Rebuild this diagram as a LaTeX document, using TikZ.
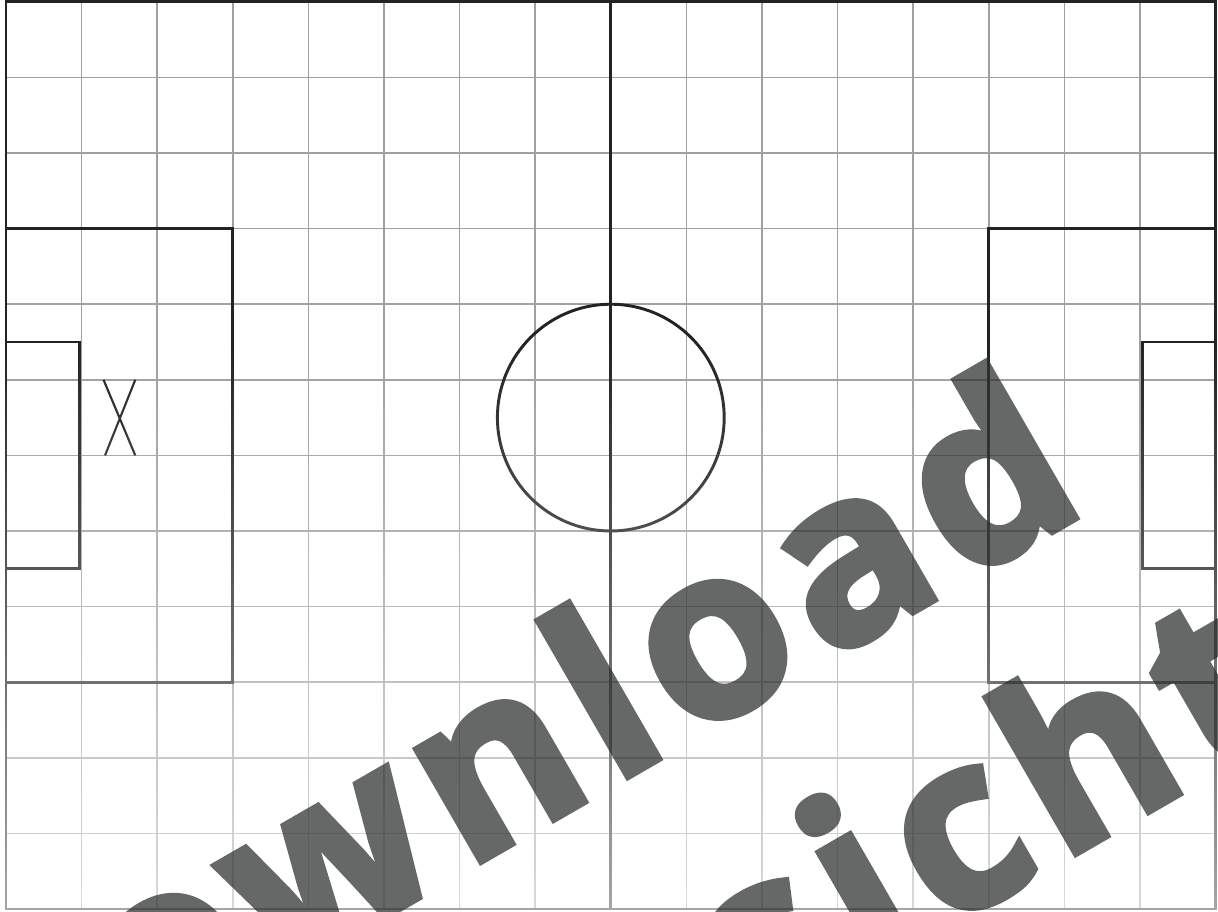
\documentclass[tikz,border=0pt]{standalone}
\usepackage{fontspec}
\usetikzlibrary{fadings}
\newfontfamily\wmfont[LetterSpace=6,FakeBold=3]{Open Sans}
\definecolor{gridgray}{RGB}{160,160,160}
\definecolor{lineblack}{RGB}{35,35,35}
\definecolor{wmgray}{RGB}{44,48,46}
\tikzfading[name=fadeup, bottom color=transparent!40, top color=transparent!100]
\begin{document}
\begin{tikzpicture}[x=1cm,y=1cm,
  gridline/.style={gridgray, line width=0.55pt},
  fieldline/.style={lineblack, line width=1.1pt},
  markline/.style={lineblack, line width=0.8pt},
  watermark/.style={text=wmgray, font=\wmfont\bfseries\fontsize{89}{89}\selectfont, rotate=30, inner sep=0pt}]
\useasboundingbox (-0.0794,-0.0265) rectangle (16.032,12.024);
\fill[white] (-0.0794,-0.0265) rectangle (16.032,12.024);
\draw[gridline] (0,0) grid (16,12);
\draw[fieldline] (0,0) rectangle (16,12);
\draw[fieldline] (8,0) -- (8,12);
\draw[fieldline] (8,6.5) circle (1.5);
\draw[fieldline] (0,3) rectangle (3,9);
\draw[fieldline] (0,4.5) rectangle (0.97,7.5);
\draw[fieldline] (13,3) rectangle (16,9);
\draw[fieldline] (15.03,4.5) rectangle (16,7.5);
\draw[markline] (1.29,7) -- (1.71,6) (1.71,7) -- (1.31,6);
\fill[white, path fading=fadeup] (-0.1,-0.05) rectangle (16.1,7.5);
\begin{scope}[transparency group, opacity=0.73]
\node[watermark, anchor=base east] (wm1) at (14.37,5.30) {Download};
\node[watermark, anchor=base east] (wm2) at (17.07,2.42) {Ansicht};
\end{scope}
\end{tikzpicture}
\end{document}
